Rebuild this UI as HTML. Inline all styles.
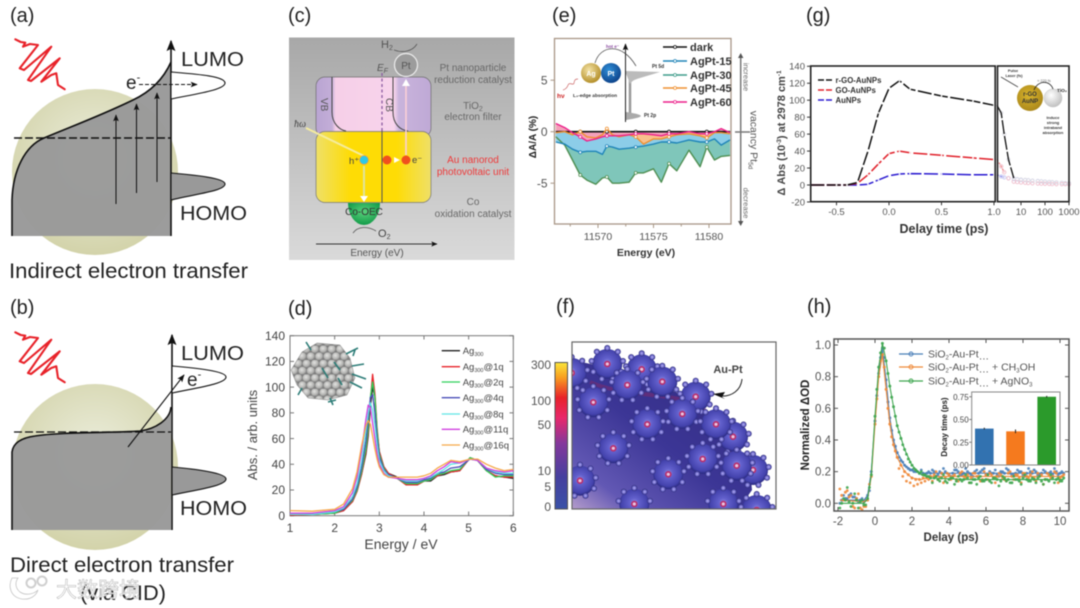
<!DOCTYPE html>
<html lang="en">
<head>
<meta charset="utf-8">
<title>Hot electron transfer figure panels</title>
<style>
html,body{margin:0;padding:0;background:#fff;width:1080px;height:608px;overflow:hidden}
svg{display:block;filter:blur(0.45px);font-family:"Liberation Sans","Noto Sans CJK SC",sans-serif}
</style>
</head>
<body>
<svg id="fig" xmlns="http://www.w3.org/2000/svg" width="1080" height="608" viewBox="0 0 1080 608">
<defs>
<radialGradient id="np" cx="50%" cy="42%" r="60%"><stop offset="0" stop-color="#eceedd"/><stop offset="1" stop-color="#d2d2a8"/></radialGradient>
<linearGradient id="cbg" x1="0" y1="0" x2="0" y2="1"><stop offset="0" stop-color="#a8a8a8"/><stop offset="1" stop-color="#dadada"/></linearGradient>
<linearGradient id="tio" x1="0" y1="0" x2="1" y2="0"><stop offset="0" stop-color="#b9a4d2"/><stop offset=".14" stop-color="#c3aed8"/><stop offset=".17" stop-color="#f6cfe8"/><stop offset=".68" stop-color="#f8d4ec"/><stop offset=".72" stop-color="#c9b4dc"/><stop offset="1" stop-color="#bfa9d6"/></linearGradient>
<linearGradient id="au" x1="0" y1="0" x2="1" y2="0"><stop offset="0" stop-color="#efe068"/><stop offset=".3" stop-color="#fedc05"/><stop offset=".7" stop-color="#fedc05"/><stop offset="1" stop-color="#efe068"/></linearGradient>
<radialGradient id="oec" cx="50%" cy="40%" r="60%"><stop offset="0" stop-color="#5ad27c"/><stop offset="1" stop-color="#129a48"/></radialGradient>
<radialGradient id="ag" cx="40%" cy="35%" r="70%"><stop offset="0" stop-color="#f4e3a6"/><stop offset="1" stop-color="#b08a22"/></radialGradient>
<radialGradient id="pt" cx="40%" cy="35%" r="70%"><stop offset="0" stop-color="#2f8fd8"/><stop offset="1" stop-color="#0c3f86"/></radialGradient>
<radialGradient id="rgo" cx="45%" cy="40%" r="65%"><stop offset="0" stop-color="#d9b42c"/><stop offset="1" stop-color="#a8851a"/></radialGradient>
<radialGradient id="tiw" cx="40%" cy="35%" r="65%"><stop offset="0" stop-color="#ffffff"/><stop offset="1" stop-color="#c2c2c2"/></radialGradient>
<radialGradient id="sph" cx="50%" cy="46%" r="52%"><stop offset="0" stop-color="#8f8ce2"/><stop offset=".3" stop-color="#6260cc"/><stop offset=".85" stop-color="#4342ac"/><stop offset="1" stop-color="#2c2c84"/></radialGradient>
<radialGradient id="sat" cx="50%" cy="50%" r="50%"><stop offset="0" stop-color="#b8b2f2"/><stop offset=".6" stop-color="#6e6acc"/><stop offset="1" stop-color="#25246c"/></radialGradient>
<linearGradient id="fbg" x1="0" y1="1" x2="1" y2="0"><stop offset="0" stop-color="#b49ccb"/><stop offset=".16" stop-color="#6258b4"/><stop offset=".45" stop-color="#3c3696"/><stop offset="1" stop-color="#30297a"/></linearGradient>
<linearGradient id="cbar" x1="0" y1="0" x2="0" y2="1"><stop offset="0" stop-color="#fbe63a"/><stop offset=".1" stop-color="#f9a020"/><stop offset=".24" stop-color="#e8222a"/><stop offset=".38" stop-color="#e8286c"/><stop offset=".55" stop-color="#85389c"/><stop offset=".78" stop-color="#46409f"/><stop offset="1" stop-color="#3a52a8"/></linearGradient>
<radialGradient id="ball" cx="42%" cy="38%" r="65%"><stop offset="0" stop-color="#e4e4e2"/><stop offset=".7" stop-color="#b0b0ae"/><stop offset="1" stop-color="#7c7c7c"/></radialGradient>
<pattern id="atoms" x="0" y="0" width="8.4" height="14.4" patternUnits="userSpaceOnUse"><rect width="8.4" height="14.4" fill="#7d7d7d"/><circle cx="4.2" cy="3.6" r="4" fill="url(#ball)"/><circle cx="0" cy="10.8" r="4" fill="url(#ball)"/><circle cx="8.4" cy="10.8" r="4" fill="url(#ball)"/></pattern>
<marker id="ah" viewBox="0 0 10 10" refX="9" refY="5" markerWidth="7" markerHeight="7" orient="auto"><path d="M0,1 L10,5 L0,9 L2,5 Z" fill="#111"/></marker>
<clipPath id="fclip"><rect x="572" y="342" width="204" height="167"/></clipPath>
<g id="nano">
<circle r="15" fill="url(#sph)"/>
<circle r="3.3" fill="#b8306e"/><circle r="1.6" fill="#e8c4e0"/>
<circle cx="0" cy="-16" r="3" fill="url(#sat)"/><circle cx="10.5" cy="-12.2" r="3" fill="url(#sat)"/><circle cx="15.7" cy="-3" r="3" fill="url(#sat)"/><circle cx="14" cy="7.8" r="3" fill="url(#sat)"/><circle cx="5.5" cy="15" r="3" fill="url(#sat)"/><circle cx="-5.5" cy="15" r="3" fill="url(#sat)"/><circle cx="-14" cy="7.8" r="3" fill="url(#sat)"/><circle cx="-15.7" cy="-3" r="3" fill="url(#sat)"/><circle cx="-10.5" cy="-12.2" r="3" fill="url(#sat)"/>
</g>
</defs>

<rect width="1080" height="608" fill="#ffffff"/>

<!-- Panel a -->
<g>
<text x="10" y="22" font-size="20" fill="#222">(a)</text>
<circle cx="95" cy="172" r="83" fill="url(#np)"/>
<path d="M12,236 L12,200 C13,170 25,146 44,138 C70,127 100,116 133,100 C150,92 163,80 171,62 L171,236 Z" fill="#999" fill-opacity=".97"/>
<path d="M12,236 L12,200 C13,170 25,146 44,138 C70,127 100,116 133,100 C150,92 163,80 171,62" fill="none" stroke="#111" stroke-width="1.6"/>
<line x1="171" y1="236" x2="171" y2="41" stroke="#111" stroke-width="1.6" marker-end="url(#ah)"/>
<line x1="14" y1="138" x2="171" y2="138" stroke="#111" stroke-width="1.4" stroke-dasharray="8 3"/>
<line x1="116" y1="204" x2="116" y2="115" stroke="#111" stroke-width="1" marker-end="url(#ah)"/>
<line x1="136.5" y1="193" x2="136.5" y2="104" stroke="#111" stroke-width="1" marker-end="url(#ah)"/>
<line x1="157" y1="182" x2="157" y2="93" stroke="#111" stroke-width="1" marker-end="url(#ah)"/>
<path d="M171,72 C195,74 225,76 225,83 C225,90 195,94 171,99 Z" fill="#fff" stroke="#111" stroke-width="1.1"/>
<path d="M171,173 C195,175 225,178 225,184 C225,191 195,194 171,200 Z" fill="#999" stroke="#111" stroke-width="1.1"/>
<line x1="139" y1="84.5" x2="197" y2="84.5" stroke="#111" stroke-width="1" stroke-dasharray="4 2" marker-end="url(#ah)"/>
<text x="126" y="89" font-size="19" fill="#222">e<tspan font-size="11" dy="-8">-</tspan></text>
<text x="181" y="66" font-size="20" fill="#222" textLength="63" lengthAdjust="spacingAndGlyphs">LUMO</text>
<text x="180" y="220" font-size="20" fill="#222" textLength="67" lengthAdjust="spacingAndGlyphs">HOMO</text>
<polyline points="15.3,39.3 20.7,42 25.3,42.7 23,46.7 30,44 38,45 19.7,68.3 24,70 51.3,46.7 28,80 31,81 59.7,58.3 41.3,81.7 51.3,75 56.3,73.3 58,85 64.7,89.3" fill="none" stroke="#e8232a" stroke-width="2.1" stroke-linejoin="round" stroke-linecap="round"/>
<text x="9" y="278" font-size="21" fill="#222" textLength="239" lengthAdjust="spacingAndGlyphs">Indirect electron transfer</text>
</g>

<!-- Panel b -->
<g>
<text x="10" y="314" font-size="20" fill="#222">(b)</text>
<circle cx="95" cy="467" r="83" fill="url(#np)"/>
<path d="M12,530 L12,452 C13,444 20,438 35,436 C60,432 110,433 140,431 C155,429 170,420 171,407 L171,530 Z" fill="#999" fill-opacity=".97"/>
<path d="M12,530 L12,452 C13,444 20,438 35,436 C60,432 110,433 140,431 C155,429 170,420 171,407" fill="none" stroke="#111" stroke-width="1.6"/>
<line x1="172" y1="530" x2="172" y2="335" stroke="#111" stroke-width="1.6" marker-end="url(#ah)"/>
<line x1="14" y1="432" x2="171" y2="432" stroke="#111" stroke-width="1.2" stroke-dasharray="8 3"/>
<path d="M172,366 C195,368 226,371 226,377 C226,384 195,388 172,393 Z" fill="#fff" stroke="#111" stroke-width="1.1"/>
<path d="M172,467 C195,469 226,473 226,479 C226,486 195,490 172,495 Z" fill="#999" stroke="#111" stroke-width="1.1"/>
<line x1="128" y1="447" x2="184" y2="375" stroke="#111" stroke-width="1.1" marker-end="url(#ah)"/>
<text x="187" y="386" font-size="19" fill="#222">e<tspan font-size="11" dy="-8">-</tspan></text>
<text x="181" y="360" font-size="20" fill="#222" textLength="63" lengthAdjust="spacingAndGlyphs">LUMO</text>
<text x="180" y="515" font-size="20" fill="#222" textLength="67" lengthAdjust="spacingAndGlyphs">HOMO</text>
<polyline points="15.3,332.3 20.7,335 25.3,335.7 23,339.7 30,337 38,338 19.7,361.3 24,363 51.3,339.7 28,373 31,374 59.7,351.3 41.3,374.7 51.3,368 56.3,366.3 58,378 64.7,382.3" fill="none" stroke="#e8232a" stroke-width="2.1" stroke-linejoin="round" stroke-linecap="round"/>
<text x="10" y="572" font-size="21" fill="#222" textLength="224" lengthAdjust="spacingAndGlyphs">Direct electron transfer</text>
<text x="80" y="600" font-size="21" fill="#222" textLength="86" lengthAdjust="spacingAndGlyphs">(via CID)</text>
</g>

<!-- Watermark -->
<g fill="#fff" fill-opacity=".85">
<path d="M12,578 C8,586 10,597 22,599 C30,600 36,596 38,590 C34,594 26,596 20,592 C15,588 15,582 18,578 Z" stroke="#c4c4c4" stroke-width=".8"/>
<circle cx="31" cy="583" r="4.5" fill="none" stroke="#cfcfcf" stroke-width="2"/>
<circle cx="42" cy="581" r="4.5" fill="none" stroke="#cfcfcf" stroke-width="2"/>
<text x="56" y="597" font-size="21" style="font-family:'Noto Sans CJK SC',sans-serif" stroke="#b4b4b4" stroke-width=".5">大数跨境</text>
</g>

<!-- Panel c -->
<g>
<text x="288" y="22" font-size="20" fill="#222">(c)</text>
<rect x="289" y="37.5" width="225.5" height="222.5" fill="url(#cbg)"/>
<rect x="316" y="77" width="115" height="60" rx="9" fill="url(#tio)" stroke="#6f6f6f" stroke-width=".7"/>
<rect x="316" y="131.5" width="115" height="71" rx="9" fill="url(#au)" stroke="#777" stroke-width=".7"/>
<path d="M332,77 L332,112 C332,124 340,130 346,131" fill="none" stroke="#444" stroke-width="1"/>
<path d="M393,77 L393,112 C393,124 400,130 408,131" fill="none" stroke="#444" stroke-width="1"/>
<line x1="382" y1="73" x2="382" y2="131" stroke="#8a5aa0" stroke-width="1.3" stroke-dasharray="3 2.5"/>
<line x1="382" y1="131" x2="382" y2="203" stroke="#555" stroke-width="1"/>
<circle cx="406" cy="65" r="11.5" fill="#9c9c9c" stroke="#eee" stroke-width="1.2"/>
<text x="406" y="69" font-size="10" fill="#555" text-anchor="middle">Pt</text>
<path d="M348,203 L380,203 A16,22 0 0 1 348,203 Z" fill="url(#oec)"/>
<text x="364" y="215" font-size="10" fill="#333" text-anchor="middle">Co-OEC</text>
<line x1="306" y1="128" x2="364" y2="156" stroke="#f5ec9e" stroke-width="2"/>
<line x1="364" y1="166" x2="364" y2="200" stroke="#dfe49a" stroke-width="2"/>
<path d="M360,196 L368,196 L364,202 Z" fill="#fff"/>
<line x1="406" y1="155" x2="406" y2="82" stroke="#fbd0d8" stroke-width="1.6"/>
<path d="M402,86 L410,86 L406,79 Z" fill="#fff"/>
<circle cx="364" cy="160" r="4.5" fill="#2cc8e8" stroke="#f5a040" stroke-width=".8"/>
<circle cx="387" cy="160" r="4.5" fill="#f0501e"/>
<circle cx="406" cy="160" r="4.5" fill="#f0501e"/>
<path d="M394,157 L400,160 L394,163 Z" fill="#fff"/>
<text x="349" y="164" font-size="9.5" fill="#444">h⁺</text>
<text x="412" y="163" font-size="9.5" fill="#444">e⁻</text>
<text x="294" y="127" font-size="10" font-style="italic" fill="#444" style="font-family:'Liberation Serif',serif">ħω</text>
<text x="381" y="48" font-size="11" fill="#555">H<tspan font-size="7" dy="2">2</tspan></text>
<path d="M394,50 C402,53 412,52 417,44" fill="none" stroke="#555" stroke-width=".8"/>
<text x="377" y="71" font-size="10" font-style="italic" fill="#555">E<tspan font-size="7" dy="2">F</tspan></text>
<text transform="translate(321,98) rotate(90)" font-size="10" fill="#555">VB</text>
<text transform="translate(386,98) rotate(90)" font-size="10" fill="#555">CB</text>
<g font-size="10" fill="#686868" text-anchor="middle">
<text x="473" y="71">Pt nanoparticle</text>
<text x="473" y="83">reduction catalyst</text>
<text x="473" y="109">TiO<tspan font-size="7" dy="2">2</tspan></text>
<text x="473" y="120">electron filter</text>
<text x="473" y="163" fill="#ee3a3a">Au nanorod</text>
<text x="473" y="175" fill="#ee3a3a">photovoltaic unit</text>
<text x="473" y="205">Co</text>
<text x="473" y="217">oxidation catalyst</text>
</g>
<path d="M353,233 C358,226 368,226 376,231" fill="none" stroke="#555" stroke-width=".8"/>
<text x="378" y="237" font-size="11" fill="#444">O<tspan font-size="7" dy="2">2</tspan></text>
<line x1="316" y1="244" x2="437" y2="244" stroke="#333" stroke-width=".9" marker-end="url(#ah)"/>
<text x="377" y="256" font-size="10" fill="#555" text-anchor="middle">Energy (eV)</text>
</g>

<!-- Panel d static -->
<g id="panel-d">
<text x="288" y="315" font-size="20" fill="#222">(d)</text>
</g>

<!-- Panel e -->
<g id="panel-e">
<text x="552" y="22" font-size="20" fill="#222">(e)</text>
</g>

<!-- Panel f -->
<g>
<text x="556" y="313" font-size="20" fill="#222">(f)</text>
<rect x="555" y="362.5" width="12.5" height="146.5" fill="url(#cbar)" stroke="#555" stroke-width="1"/>
<g font-size="12" fill="#555" text-anchor="end">
<text x="551" y="369">300</text>
<text x="551" y="405">100</text>
<text x="551" y="429">50</text>
<text x="551" y="475">10</text>
<text x="551" y="491">5</text>
<text x="551" y="511">0</text>
</g>
<g clip-path="url(#fclip)">
<polygon points="572,360 600,366 640,372 665,388 695,400 720,425 735,450 750,470 752,490 745,500 765,509 572,509" fill="url(#fbg)"/>
<path d="M590,382 C620,396 660,392 700,404 C715,424 725,444 740,470" fill="none" stroke="#7a2c70" stroke-width="4" stroke-opacity=".6"/>
<use href="#nano" x="571.7" y="373"/>
<use href="#nano" x="607.3" y="364"/>
<use href="#nano" x="641.7" y="369.3"/>
<use href="#nano" x="627.3" y="385"/>
<use href="#nano" x="662.3" y="381.7"/>
<use href="#nano" x="593.3" y="402.3"/>
<use href="#nano" x="695.7" y="396.7"/>
<use href="#nano" x="733" y="436.7"/>
<use href="#nano" x="682.3" y="414"/>
<use href="#nano" x="647.3" y="424.3"/>
<use href="#nano" x="716" y="424.3"/>
<use href="#nano" x="613.3" y="448.3"/>
<use href="#nano" x="753" y="470"/>
<use href="#nano" x="702.7" y="459"/>
<use href="#nano" x="736.7" y="465.7"/>
<use href="#nano" x="668.3" y="474.3"/>
<use href="#nano" x="580" y="480.7"/>
<use href="#nano" x="634.3" y="504"/>
<use href="#nano" x="723.3" y="504"/>
<use href="#nano" x="756.7" y="510"/>
</g>
<rect x="572" y="342" width="204" height="167" fill="none" stroke="#666" stroke-width="1.2"/>
<text x="728" y="373" font-size="11" font-weight="bold" fill="#444" text-anchor="middle">Au-Pt</text>
<path d="M742,379 C741,390 732,397 720,396" fill="none" stroke="#222" stroke-width="1"/>
<path d="M713,394 L725,392 L722,397 L725,399 Z" fill="#111"/>
</g>

<!-- Panel g -->
<g id="panel-g">
<text x="806" y="22" font-size="20" fill="#222">(g)</text>
</g>

<!-- Panel h -->
<g id="panel-h">
<text x="807" y="313" font-size="20" fill="#222">(h)</text>
</g>
</svg>

<script>
/* ---------- Panel d data ---------- */
var dEnergy = [1,1.5,2,2.2,2.4,2.5,2.6,2.7,2.75,2.8,2.85,2.9,2.95,3.0,3.1,3.2,3.4,3.6,3.85,4.0,4.15,4.3,4.45,4.6,4.8,5.03,5.2,5.4,5.6,5.8,6];
var dAg300 = [0.5,1,2,4,11,19,32,48,62,85,100,92,65,50,38,33,30,24,24,27,27,31,32,34,35,45,43,35,31,30,29];
var dAg1q  = [0.5,1,2,4,11,19,32,50,65,90,110,95,68,50,38,33,29,24,24,27,28,31,33,34,35,45,43,35,31,30,30];
var dAg2q  = [1,1,2,5,12,20,34,52,68,92,104,92,66,48,37,32,29,25,25,27,28,32,33,35,36,45,43,35,30,31,31];
var dAg4q  = [1,1,3,5,13,22,37,58,75,92,94,80,60,46,36,32,29,26,26,28,29,33,34,37,38,44,43,36,33,32,32];
var dAg8q  = [1,1,3,6,15,25,42,66,80,88,82,70,55,43,35,31,29,27,27,29,30,33,36,40,41,44,43,37,34,33,33];
var dAg11q = [2,2,4,7,18,30,50,75,86,84,72,60,48,40,33,30,29,28,28,29,31,35,38,42,41,44,43,37,35,34,35];
var dAg16q = [4,3.5,5,9,21,34,54,70,74,71,62,52,44,38,32,30,30,30,30,31,33,37,40,43,42,44,44,40,37,35,36];
var dSeriesNames = ['Ag300','@1q','@2q','@4q','@8q','@11q','@16q'];
var dXTicks = [1,2,3,4,5,6];
var dYTicks = [0,20,40,60,80,100,120,140];

/* ---------- Panel e data ---------- */
var eEnergy = [11566.2,11567,11567.7,11568.4,11569,11569.8,11570.4,11570.8,11571.3,11571.9,11572.8,11573.4,11574.1,11575,11575.7,11576.4,11577.1,11578.2,11579.2,11579.8,11580.5,11581.1,11581.9];
var eDark   = [0,0,0,0,0,0,0,0,0,0,0,0,0,0,0,0,0,0,0,0,0,0,0];
var eAgPt15 = [-1,-1.2,-1.7,-2,-1.9,-1.9,-2.2,-1.4,-1.5,-1.7,-1.6,-1.5,-1.4,-1.2,-1,-1,-1.1,-0.8,-1,-1,-0.7,-1.3,-0.8];
var eAgPt30 = [-0.5,-1.3,-2.75,-4.2,-4.7,-5.1,-4.5,-4.4,-5,-5,-4.9,-4,-4,-3.6,-4.9,-3.1,-3.8,-1.8,-3.4,-1.5,-2.75,-2.4,-2.3];
var eAgPt45 = [-0.1,0,-0.3,0,-0.5,-0.6,-0.3,0.3,-0.3,-0.5,-0.3,-0.5,-1.2,-0.7,-0.7,-0.5,-0.3,-0.2,-0.4,-0.6,-0.1,-0.1,-0.2];
var eAgPt60 = [0.8,0.4,-0.1,-0.5,-0.9,-0.7,-0.5,-0.4,-0.4,-0.4,-0.3,-0.2,-0.2,-0.3,-0.4,-0.2,-0.2,0,-0.2,-0.2,0,0.3,-0.1];
var eXTicks = [11570,11575,11580];
var eXMinor = [11567.5,11572.5,11577.5];
var eYTicks = [-5,0,5];

/* ---------- Panel g data ---------- */
var gTimeLin = [-0.75,-0.5,-0.4,-0.3,-0.2,-0.1,0,0.1,0.2,0.5,0.8,1.0];
var gRgoLin  = [0,0,0,3,40,85,114,123,113,105,99,94];
var gGoLin   = [0,0,0,2,12,25,37,40,38,35,32,30];
var gAuLin   = [0,0,0,0,1,6,11,13,13.5,13,12,12];
var gTimeLog = [1,1.5,2,3,5,7,10,15,20,30,50,70,100,150,200,300,500,700,1000];
var gRgoLog  = [94,85,60,30,8,7,6.5,6,5.5,5,4.5,4.2,4,3.6,3.3,3,2.6,2.3,2];
var gGoLog   = [30,22,15,8,4,3.5,3,2.7,2.4,2,1.8,1.6,1.5,1.3,1.1,1,1,1,1];
var gAuLog   = [12,10,9,8,7,6.6,6,5.8,5.6,5,4.7,4.3,4,3.6,3.3,3,2.6,2.3,2];
var gXTicksLin = [-0.5,0,0.5,1.0];
var gXTicksLog = [10,100,1000];
var gYTicks = [-20,0,20,40,60,80,100,120,140];

/* ---------- Panel h data ---------- */
var hDelay = [-1.8,-1.6,-1.4,-1.2,-1.0,-0.8,-0.6,-0.4,-0.2,0,0.1,0.2,0.3,0.4,0.5,0.6,0.7,0.8,0.9,1.0,1.1,1.2,1.4,1.6,1.8,2.0,2.2,2.4,2.6,2.8,3.0,3.2,3.4,3.6,3.8,4.0,4.2,4.4,4.6,4.8,5.0,5.2,5.4,5.6,5.8,6.0,6.2,6.4,6.6,6.8,7.0,7.2,7.4,7.6,7.8,8.0,8.2,8.4,8.6,8.8,9.0,9.2,9.4,9.6,9.8,10.0,10.2];
var hBlue = [0.02,0.03,0.05,0.04,0.03,0.02,0.01,0.05,0.2,0.52,0.68,0.82,0.92,0.98,0.92,0.78,0.64,0.54,0.46,0.40,0.36,0.32,0.27,0.24,0.22,0.21,0.2,0.19,0.19,0.19,0.19,0.2,0.18,0.19,0.2,0.18,0.19,0.21,0.18,0.19,0.2,0.18,0.2,0.19,0.21,0.18,0.2,0.19,0.18,0.2,0.19,0.21,0.18,0.19,0.2,0.18,0.19,0.2,0.21,0.18,0.19,0.2,0.19,0.18,0.2,0.19,0.19];
var hOrange = [0.05,0.07,0.04,-0.02,0.03,-0.03,-0.02,0.02,0.17,0.5,0.66,0.8,0.9,0.94,0.86,0.72,0.6,0.5,0.42,0.37,0.33,0.29,0.24,0.2,0.18,0.16,0.15,0.15,0.16,0.16,0.17,0.18,0.15,0.19,0.16,0.18,0.17,0.15,0.19,0.17,0.18,0.16,0.19,0.17,0.15,0.18,0.19,0.16,0.17,0.18,0.15,0.19,0.17,0.18,0.16,0.19,0.17,0.18,0.16,0.19,0.18,0.15,0.18,0.17,0.19,0.16,0.18];
var hGreen = [0,0.02,0.01,0,0.02,0.01,-0.01,0.03,0.18,0.55,0.72,0.86,0.95,1.01,0.98,0.9,0.82,0.74,0.67,0.61,0.55,0.49,0.41,0.34,0.28,0.24,0.21,0.19,0.18,0.17,0.16,0.16,0.15,0.16,0.14,0.15,0.16,0.14,0.15,0.15,0.16,0.13,0.15,0.16,0.14,0.15,0.14,0.16,0.15,0.14,0.16,0.15,0.13,0.15,0.14,0.16,0.15,0.14,0.15,0.16,0.14,0.15,0.14,0.16,0.15,0.14,0.16];
var hDelayB = [-1.9,-1.7,-1.5,-1.3,-1.1,-0.9,-0.7,-0.5,-0.3,1.3,1.5,1.7,1.9,2.1,2.3,2.5,2.7,2.9,3.1,3.3,3.5,3.7,3.9,4.1,4.3,4.5,4.7,4.9,5.1,5.3,5.5,5.7,5.9,6.1,6.3,6.5,6.7,6.9,7.1,7.3,7.5,7.7,7.9,8.1,8.3,8.5,8.7,8.9,9.1,9.3,9.5,9.7,9.9,10.1];
var hBlueB = [0,0.05,0.03,0.06,0.04,0.01,0.03,0.02,0.08,0.29,0.26,0.23,0.21,0.2,0.2,0.21,0.18,0.2,0.21,0.17,0.2,0.22,0.19,0.17,0.21,0.2,0.18,0.22,0.19,0.17,0.21,0.2,0.22,0.18,0.19,0.21,0.17,0.2,0.22,0.19,0.18,0.21,0.2,0.17,0.22,0.19,0.2,0.18,0.21,0.19,0.2,0.22,0.18,0.2];
var hOrangeB = [0.09,0.02,0.08,0.05,-0.03,0.06,-0.04,-0.02,0.12,0.22,0.17,0.14,0.13,0.11,0.12,0.13,0.14,0.15,0.14,0.2,0.16,0.13,0.19,0.15,0.18,0.14,0.2,0.16,0.13,0.19,0.17,0.14,0.2,0.15,0.18,0.13,0.19,0.16,0.14,0.2,0.15,0.18,0.13,0.19,0.16,0.2,0.14,0.17,0.12,0.19,0.16,0.2,0.13,0.17];
var hGreenB = [-0.03,0.03,0.1,-0.02,0.06,-0.03,0.02,-0.01,0.1,0.45,0.37,0.31,0.26,0.22,0.2,0.2,0.18,0.17,0.13,0.17,0.14,0.18,0.13,0.16,0.12,0.17,0.14,0.18,0.13,0.15,0.12,0.17,0.14,0.18,0.13,0.16,0.11,0.17,0.14,0.13,0.17,0.15,0.12,0.18,0.14,0.16,0.13,0.17,0.12,0.15,0.18,0.13,0.16,0.14];
var hFitDelay = [-1.9,-0.6,-0.4,-0.2,0,0.2,0.4,0.6,0.8,1,1.2,1.6,2,2.5,3,5,10.2];
var hFitBlue = [0.02,0.02,0.05,0.2,0.52,0.82,0.98,0.78,0.54,0.4,0.32,0.24,0.21,0.19,0.19,0.19,0.19];
var hFitOrange = [0.02,0.01,0.03,0.17,0.5,0.8,0.94,0.72,0.5,0.37,0.29,0.2,0.16,0.15,0.17,0.17,0.17];
var hFitGreen = [0,0,0.03,0.18,0.55,0.86,1.01,0.9,0.74,0.61,0.49,0.34,0.24,0.18,0.16,0.15,0.15];
var hXTicks = [-2,0,2,4,6,8,10];
var hYTicks = [0,0.2,0.4,0.6,0.8,1.0];
var hBarNames = ['SiO2-Au-Pt','+ CH3OH','+ AgNO3'];
var hBarValues = [0.40,0.37,0.75];
var hBarErrors = [0.01,0.02,0.01];
var hBarTicks = [0,0.25,0.5,0.75];

/* ---------- Helpers ---------- */
var SVGNS = 'http://www.w3.org/2000/svg';
function make(tag, parent, attrs, text) {
  var n = document.createElementNS(SVGNS, tag);
  for (var k in attrs) { n.setAttribute(k, attrs[k]); }
  if (text !== undefined) { n.textContent = text; }
  parent.appendChild(n);
  return n;
}
function lineOf(parent, x1, y1, x2, y2, stroke, width, name) {
  var l = make('line', parent, {x1:x1, y1:y1, x2:x2, y2:y2, stroke:stroke, 'stroke-width':width});
  
  
  return l;
}
function label(parent, x, y, str, size, fill, anchor, weight, name) {
  var t = make('text', parent, {x:x, y:y, 'font-size':size, fill:fill, 'text-anchor':anchor, 'font-weight':weight}, str);
  
  
  return t;
}
function rotated(parent, x, y, angle, str, size, fill, weight, name) {
  var t = make('text', parent, {transform:'translate('+x+','+y+') rotate('+angle+')', 'font-size':size, fill:fill, 'text-anchor':'middle', 'font-weight':weight}, str);
  
  
  return t;
}
function boxRect(parent, x, y, w, h, stroke, width, name) {
  var r = make('rect', parent, {x:x, y:y, width:w, height:h, fill:'none', stroke:stroke, 'stroke-width':width});
  
  
  return r;
}
function pathFrom(xs, ys, sx, sy) {
  var d = '';
  for (var i = 0; i < xs.length; i++) { d += (i ? 'L' : 'M') + sx(xs[i]).toFixed(1) + ',' + sy(ys[i]).toFixed(1); }
  return d;
}
function seriesPath(parent, d, stroke, width, dash, name) {
  var p = make('path', parent, {d:d, fill:'none', stroke:stroke, 'stroke-width':width, 'stroke-linejoin':'round'});
  if (dash) { p.setAttribute('stroke-dasharray', dash); }
  
  
  return p;
}

/* ---------- Panel d ---------- */
(function () {
  var g = document.getElementById('panel-d');
  var sx = function (v) { return 290 + (v - 1) * (513.3 - 290) / 5; };
  var sy = function (v) { return 515.7 - v * (515.7 - 335.7) / 140; };
  var axisColor = '#777', textColor = '#444';
  boxRect(g, 290, 335.7, 223.3, 180, axisColor, 1, 'plot-frame-d');
  dXTicks.forEach(function (v) {
    lineOf(g, sx(v), 515.7, sx(v), 511.5, axisColor, 1, 'x-tick-d');
    lineOf(g, sx(v), 335.7, sx(v), 339.5, axisColor, 1, 'x-tick-top-d');
    label(g, sx(v), 532, String(v), 12, textColor, 'middle', 'normal', 'x-tick-label-d');
  });
  dYTicks.forEach(function (v) {
    lineOf(g, 290, sy(v), 294, sy(v), axisColor, 1, 'y-tick-d');
    lineOf(g, 513.3, sy(v), 509.5, sy(v), axisColor, 1, 'y-tick-right-d');
    label(g, 285, sy(v) + 4.2, String(v), 12, textColor, 'end', 'normal', 'y-tick-label-d');
  });
  rotated(g, 257, 435, -90, 'Abs. / arb. units', 13, textColor, 'normal', 'y-axis-title-d');
  label(g, 401, 549, 'Energy / eV', 14, textColor, 'middle', 'normal', 'x-axis-title-d');

  var series = [dAg300, dAg1q, dAg2q, dAg4q, dAg8q, dAg11q, dAg16q];
  var colors = ['#222222', '#e8232a', '#2fd05a', '#4a4fb8', '#5fe5e5', '#d040e0', '#f5a84a'];
  series.forEach(function (vals, i) {
    seriesPath(g, pathFrom(dEnergy, vals, sx, sy), colors[i], 1.3, null, 'spectrum-line');
  });

  /* nanoparticle inset */
  var cluster = make('polygon', g, {points:'291,370 302,352 317,343 340,345 350,358 355,378 347,395 328,400 308,398 297,385', fill:'url(#atoms)', stroke:'#888', 'stroke-width':0.5});
  
  
  var ligands = make('path', g, {d:'M306,342 L311,350 M346,354 L358,348 M352,366 L364,364 M352,374 L366,379 M350,382 L362,388 M330,398 L333,405 M302,388 L298,395 M334,362 L340,370 M322,368 L328,378 M338,378 L342,385 M355,350 L353,356 M328,402 L336,400', fill:'none', stroke:'#2e7d78', 'stroke-width':1.6});
  
  

  /* legend */
  var rows = [350.7, 366.7, 382, 397.7, 414, 429.3, 445];
  var tails = ['', '@1q', '@2q', '@4q', '@8q', '@11q', '@16q'];
  rows.forEach(function (y, i) {
    lineOf(g, 441.7, y, 460, y, colors[i], 1.3, 'legend-swatch-d');
    var t = label(g, 462.7, y + 3.3, 'Ag', 9.5, '#444', 'start', 'normal', 'legend-label-d');
    make('tspan', t, {'font-size':5.5, dy:2}, '300');
    make('tspan', t, {dy:-2}, tails[i]);
  });
})();

/* ---------- Panel e ---------- */
(function () {
  var g = document.getElementById('panel-e');
  var L = 554.5, R = 731, T = 38.5, B = 224;
  var sx = function (v) { return 598 + (v - 11570) * 11.1; };
  var sy = function (v) { return 131.7 - v * 10.3; };
  var frame = '#a89686';
  /* fills */
  var series = [eAgPt30, eAgPt15, eAgPt45, eAgPt60];
  var fills = ['#7fc6ba', '#8ccde8', '#f8c08c', '#f4a0ba'];
  series.forEach(function (vals, i) {
    var d = pathFrom(eEnergy, vals, sx, sy) + 'L' + sx(11581.9).toFixed(1) + ',' + sy(0) + 'L' + sx(11566.2).toFixed(1) + ',' + sy(0) + 'Z';
    var a = make('path', g, {d:d, fill:fills[i], stroke:'none'});
    
    
  });
  var all = [eAgPt30, eAgPt15, eAgPt45, eAgPt60, eDark];
  var cols = ['#4f8f52', '#1f84b8', '#ef9030', '#ec1f8a', '#111111'];
  var order = [4, 0, 1, 2, 3];
  order.forEach(function (k) {
    seriesPath(g, pathFrom(eEnergy, all[k], sx, sy), cols[k], k === 4 ? 1.6 : 1.4, null, 'series-line-e');
    all[k].forEach(function (v, i) {
      if (i % 4 === 3) {
        var c = make('circle', g, {cx:sx(eEnergy[i]), cy:sy(v), r:1.5, fill:'#fff', stroke:cols[k], 'stroke-width':0.8});
        
        
      }
    });
  });
  boxRect(g, L, T, R - L, B - T, frame, 1.3, 'plot-frame-e');
  eXTicks.forEach(function (v) {
    lineOf(g, sx(v), B, sx(v), B + 4, frame, 1, 'x-tick-e');
    label(g, sx(v), 240, String(v), 10.5, '#555', 'middle', 'normal', 'x-tick-label-e');
  });
  eXMinor.forEach(function (v) {
    lineOf(g, sx(v), B, sx(v), B + 2.5, frame, 1, 'x-minor-tick-e');
  });
  eYTicks.forEach(function (v) {
    lineOf(g, L, sy(v), L - 4, sy(v), frame, 1, 'y-tick-e');
    label(g, L - 7, sy(v) + 4.5, v < 0 ? '-' + Math.abs(v) : String(v), 12, '#555', 'end', 'normal', 'y-tick-label-e');
  });
  rotated(g, 536, 137, -90, 'ΔA/A (%)', 10, '#222', 'bold', 'y-axis-title-e');
  label(g, 646, 256, 'Energy (eV)', 10.5, '#333', 'middle', 'bold', 'x-axis-title-e');

  /* legend */
  var names = ['dark', 'AgPt-15', 'AgPt-30', 'AgPt-45', 'AgPt-60'];
  var legCols = ['#111111', '#1f84b8', '#3e9c8a', '#ef9030', '#ec1f8a'];
  var ly = [47, 61, 75, 88, 102];
  names.forEach(function (n, i) {
    lineOf(g, 663, ly[i], 687, ly[i], legCols[i], 1.6, 'legend-swatch-e');
    var m = make('circle', g, {cx:675, cy:ly[i], r:1.5, fill:'#fff', stroke:legCols[i], 'stroke-width':0.8});
    
    
    label(g, 690, ly[i] + 4, n, 11, '#333', 'start', 'bold', 'legend-label-e');
  });

  /* inset schematic */
  var ag = make('circle', g, {cx:591, cy:73, r:10, fill:'url(#ag)'});
  
  
  var pt = make('circle', g, {cx:611, cy:73, r:10, fill:'url(#pt)'});
  
  
  label(g, 591, 76, 'Ag', 7, '#fff', 'middle', 'bold', 'ag-label');
  label(g, 611, 76, 'Pt', 7, '#fff', 'middle', 'bold', 'pt-label-e');
  var arc = make('path', g, {d:'M595,63 C600,45 622,42 636,66', fill:'none', stroke:'#555', 'stroke-width':0.8});
  
  
  label(g, 606, 48, 'hot e⁻', 4.5, '#8a4aa0', 'start', 'bold', 'hot-electron-label');
  var ax = lineOf(g, 625.5, 122, 625.5, 44, '#222', 1, 'inset-energy-axis');
  ax.setAttribute('marker-end', 'url(#ah)');
  lineOf(g, 630, 75, 630, 115, '#999', 2.5, 'inset-transition-bar');
  var lobe1 = make('path', g, {d:'M626,71 L660,72 L640,78 Q632,80 630,84 Q628,78 626,74 Z', fill:'#bbb'});
  
  
  var lobe2 = make('path', g, {d:'M626,112 Q640,114 641,116 Q640,118 626,120 Z', fill:'#aaa'});
  
  
  label(g, 652, 68, 'Pt 5d', 5, '#333', 'start', 'bold', 'pt-5d-label');
  label(g, 644, 117, 'Pt 2p', 5, '#333', 'start', 'bold', 'pt-2p-label');
  label(g, 557, 98, 'hν', 6.5, '#c22', 'start', 'bold', 'photon-label-e');
  label(g, 573, 97, 'L₃-edge absorption', 4.8, '#333', 'start', 'bold', 'l3-edge-label');
  var wiggle = make('path', g, {d:'M563,90 C570,88 566,82 572,84 C576,85 572,79 578,79', fill:'none', stroke:'#c66', 'stroke-width':0.7});
  
  

  /* side scale */
  lineOf(g, 740.7, 56, 740.7, 223, '#777', 1.5, 'vacancy-scale-arrow');
  lineOf(g, 735, 132, 750, 132, '#777', 1.5, 'vacancy-scale-zero');
  var up = make('path', g, {d:'M738,58 L743.4,58 L740.7,53 Z', fill:'#555'});
  
  
  var dn = make('path', g, {d:'M738,221 L743.4,221 L740.7,226 Z', fill:'#555'});
  
  
  rotated(g, 743.5, 77, 90, 'increase', 7.5, '#666', 'normal', 'increase-label');
  rotated(g, 743.5, 203, 90, 'decrease', 7.5, '#666', 'normal', 'decrease-label');
  var vac = rotated(g, 750.5, 140, 90, 'vacancy Pt', 10.5, '#555', 'normal', 'vacancy-label');
  make('tspan', vac, {'font-size':6.5, dy:2}, '5d');
})();

/* ---------- Panel g ---------- */
(function () {
  var g = document.getElementById('panel-g');
  var T = 66, B = 201.7;
  var sy = function (v) { return 185 - v * 0.848; };
  var sxL = function (v) { return 889 + v * 105; };
  var sxR = function (v) { return 997 + Math.log(v) / Math.LN10 * 24; };
  var cols = ['#111111', '#e0202a', '#2a1ad0'];
  var linSeries = [gRgoLin, gGoLin, gAuLin];
  var logSeries = [gRgoLog, gGoLog, gAuLog];
  var hollow = ['#dcdce4', '#eeb8c8', '#c8c8f0'];
  [2, 1, 0].forEach(function (k) {
    logSeries[k].forEach(function (v, i) {
      if (gTimeLog[i] > 1) {
        var m = make('circle', g, {cx:sxR(gTimeLog[i]), cy:sy(v), r:1.7, fill:'none', stroke:hollow[k], 'stroke-width':0.8});
        
        
      }
    });
  });
  [2, 1, 0].forEach(function (k) {
    seriesPath(g, pathFrom(gTimeLin, linSeries[k], sxL, sy), cols[k], 1.5, '14 2.5', 'delay-line-linear');
    linSeries[k].forEach(function (v, i) {
      var w = make('circle', g, {cx:sxL(gTimeLin[i]), cy:sy(v), r:1, fill:'#fff', 'fill-opacity':0.85});
      
      
    });
    var n = k === 0 ? 5 : 3;
    var tSub = gTimeLog.slice(0, n);
    var vSub = logSeries[k].slice(0, n);
    seriesPath(g, pathFrom(tSub, vSub, sxR, sy), k === 0 ? '#111' : (k === 1 ? '#e88' : '#88e'), 1.3, k === 0 ? '14 2' : '2 1.5', 'delay-line-log');
  });
  boxRect(g, 810.7, T, 184.5, B - T, '#222', 1.6, 'plot-frame-g-linear');
  boxRect(g, 997.5, T, 71.5, B - T, '#222', 1.6, 'plot-frame-g-log');
  gYTicks.forEach(function (v) {
    lineOf(g, 810.7, sy(v), 807, sy(v), '#333', 1, 'y-tick-g');
    label(g, 805, sy(v) + 3.3, String(v), 9.5, '#555', 'end', 'normal', 'y-tick-label-g');
  });
  gXTicksLin.forEach(function (v) {
    lineOf(g, sxL(v), B, sxL(v), B + 3.5, '#333', 1, 'x-tick-g');
    label(g, sxL(v), 215, v.toFixed(1), 9.5, '#555', 'middle', 'normal', 'x-tick-label-g');
  });
  gXTicksLog.forEach(function (v) {
    lineOf(g, sxR(v), B, sxR(v), B + 3.5, '#333', 1, 'x-tick-log-g');
    label(g, sxR(v), 215, String(v), 9.5, '#555', 'middle', 'normal', 'x-tick-label-log-g');
  });
  label(g, 944, 233, 'Delay time (ps)', 12.5, '#333', 'middle', 'bold', 'x-axis-title-g');
  var yt = rotated(g, 785, 133, -90, 'Δ Abs (10', 11, '#444', 'bold', 'y-axis-title-g');
  make('tspan', yt, {'font-size':6.5, dy:-4}, '-3');
  make('tspan', yt, {dy:4}, ') at 2978 cm');
  make('tspan', yt, {'font-size':6.5, dy:-4}, '-1');

  var names = ['r-GO-AuNPs', 'GO-AuNPs', 'AuNPs'];
  var ly = [80, 90, 100];
  names.forEach(function (n, i) {
    var s = lineOf(g, 818, ly[i], 833, ly[i], cols[i], 1.4, 'legend-swatch-g');
    s.setAttribute('stroke-dasharray', '6 2');
    label(g, 835.5, ly[i] + 3, n, 7.8, '#333', 'start', 'bold', 'legend-label-g');
  });

  /* inset */
  var au = make('circle', g, {cx:1030, cy:98, r:13, fill:'url(#rgo)'});
  
  
  var ti = make('circle', g, {cx:1053, cy:98, r:9, fill:'url(#tiw)', stroke:'#bbb', 'stroke-width':0.4});
  
  
  label(g, 1030, 96, 'r-GO', 6, '#333', 'middle', 'bold', 'rgo-label');
  label(g, 1030, 103, 'AuNP', 6, '#333', 'middle', 'bold', 'aunp-label');
  label(g, 1057, 92, 'TiO₂', 4.8, '#222', 'start', 'bold', 'tio2-label-g');
  label(g, 1013, 72, 'Pulse', 3.8, '#333', 'middle', 'bold', 'pulse-label');
  label(g, 1014, 77, 'Laser (fs)', 3.8, '#333', 'middle', 'bold', 'laser-label');
  label(g, 1044, 82, '≈ 220 fs', 3.8, '#666', 'middle', 'normal', 'time-constant-label');
  label(g, 1053, 119, 'Induce', 4, '#333', 'middle', 'bold', 'induce-label');
  label(g, 1053, 124, 'strong', 4, '#333', 'middle', 'bold', 'strong-label');
  label(g, 1053, 129, 'intraband', 4, '#333', 'middle', 'bold', 'intraband-label');
  label(g, 1053, 134, 'absorption', 4, '#333', 'middle', 'bold', 'absorption-label');
  var arc = make('path', g, {d:'M1034,90 C1038,80 1050,80 1053,89', fill:'none', stroke:'#222', 'stroke-width':0.8});
  
  
  lineOf(g, 1001, 77, 1018, 87, '#444', 0.8, 'laser-beam');
})();

/* ---------- Panel h ---------- */
(function () {
  var g = document.getElementById('panel-h');
  var L = 834, R = 1069, T = 339, B = 511;
  var sx = function (v) { return 875 + v * 18.5; };
  var sy = function (v) { return 503.3 - v * 158.3; };
  var cols = ['#4a7fb8', '#ef8a3a', '#3fa650'];
  var all = [hBlue, hOrange, hGreen];
  var allB = [hBlueB, hOrangeB, hGreenB];
  var fits = [hFitBlue, hFitOrange, hFitGreen];
  all.forEach(function (vals, k) {
    vals.forEach(function (v, i) {
      var c = make('circle', g, {cx:sx(hDelay[i]), cy:sy(v), r:1.5, fill:cols[k], 'fill-opacity':0.9});
      
      
    });
    allB[k].forEach(function (v, i) {
      var c2 = make('circle', g, {cx:sx(hDelayB[i]), cy:sy(v), r:1.4, fill:cols[k], 'fill-opacity':0.9});
      
      
    });
    seriesPath(g, pathFrom(hFitDelay, fits[k], sx, sy), cols[k], 1.1, null, 'delay-fit-line');
  });
  boxRect(g, L, T, R - L, B - T, '#555', 1.5, 'plot-frame-h');
  hXTicks.forEach(function (v) {
    lineOf(g, sx(v), B, sx(v), B - 4, '#555', 1, 'x-tick-h');
    lineOf(g, sx(v), T, sx(v), T + 4, '#555', 1, 'x-tick-top-h');
    label(g, sx(v), 525, String(v), 11.5, '#555', 'middle', 'normal', 'x-tick-label-h');
  });
  hYTicks.forEach(function (v) {
    lineOf(g, L, sy(v), L + 4, sy(v), '#555', 1, 'y-tick-h');
    lineOf(g, R, sy(v), R - 4, sy(v), '#555', 1, 'y-tick-right-h');
    label(g, L - 3, sy(v) + 4, v.toFixed(1), 11.5, '#555', 'end', 'normal', 'y-tick-label-h');
  });
  rotated(g, 809, 425, -90, 'Normalized ΔOD', 11.5, '#222', 'bold', 'y-axis-title-h');
  label(g, 951, 541, 'Delay (ps)', 11.5, '#333', 'middle', 'bold', 'x-axis-title-h');

  /* legend */
  var ly = [354, 367, 381];
  var tails = ['', ' + CH', ' + AgNO'];
  var tailSubs = ['', '3', '3'];
  var tailEnds = ['', 'OH', ''];
  ly.forEach(function (y, i) {
    lineOf(g, 899, y, 923, y, cols[i], 1.3, 'legend-swatch-h');
    var m = make('circle', g, {cx:911, cy:y, r:2, fill:'none', stroke:cols[i], 'stroke-width':0.9});
    
    
    var t = label(g, 928, y + 3.5, 'SiO', 10.5, '#555', 'start', 'normal', 'legend-label-h');
    make('tspan', t, {'font-size':6, dy:2}, '2');
    make('tspan', t, {dy:-2}, '-Au-Pt');
    make('tspan', t, {'font-size':10.5, dy:2}, '…');
    make('tspan', t, {dy:-2}, tails[i]);
    if (tailSubs[i]) {
      make('tspan', t, {'font-size':6, dy:2}, tailSubs[i]);
      make('tspan', t, {dy:-2}, tailEnds[i] || ' ');
    }
  });

  /* inset bars */
  var iL = 971.7, iR = 1060, iT = 392, iB = 465;
  var cover = make('rect', g, {x:iL, y:iT, width:iR - iL, height:iB - iT, fill:'#fff'});
  
  
  var by = function (v) { return iB - v * 91; };
  var bx = function (i) { return 984.3 + i * 31.2; };
  var barCols = ['#3272b0', '#f57a1e', '#2b9a2b'];
  hBarValues.forEach(function (v, i) {
    var r = make('rect', g, {x:bx(i) - 9.3, y:by(v), width:18.6, height:iB - by(v), fill:barCols[i]});
    
    
    lineOf(g, bx(i), by(v + hBarErrors[i]), bx(i), by(v - hBarErrors[i]), '#222', 1, 'decay-bar-error');
  });
  boxRect(g, iL, iT, iR - iL, iB - iT, '#888', 1, 'inset-frame');
  hBarTicks.forEach(function (v) {
    lineOf(g, iL, by(v), iL - 2.5, by(v), '#777', 1, 'inset-y-tick');
    label(g, iL - 3, by(v) + 3, v.toFixed(2), 8, '#444', 'end', 'normal', 'inset-y-tick-label');
  });
  rotated(g, 947, 427, -90, 'Decay time (ps)', 8, '#222', 'bold', 'inset-y-axis-title');
})();
</script>
</body>
</html>
